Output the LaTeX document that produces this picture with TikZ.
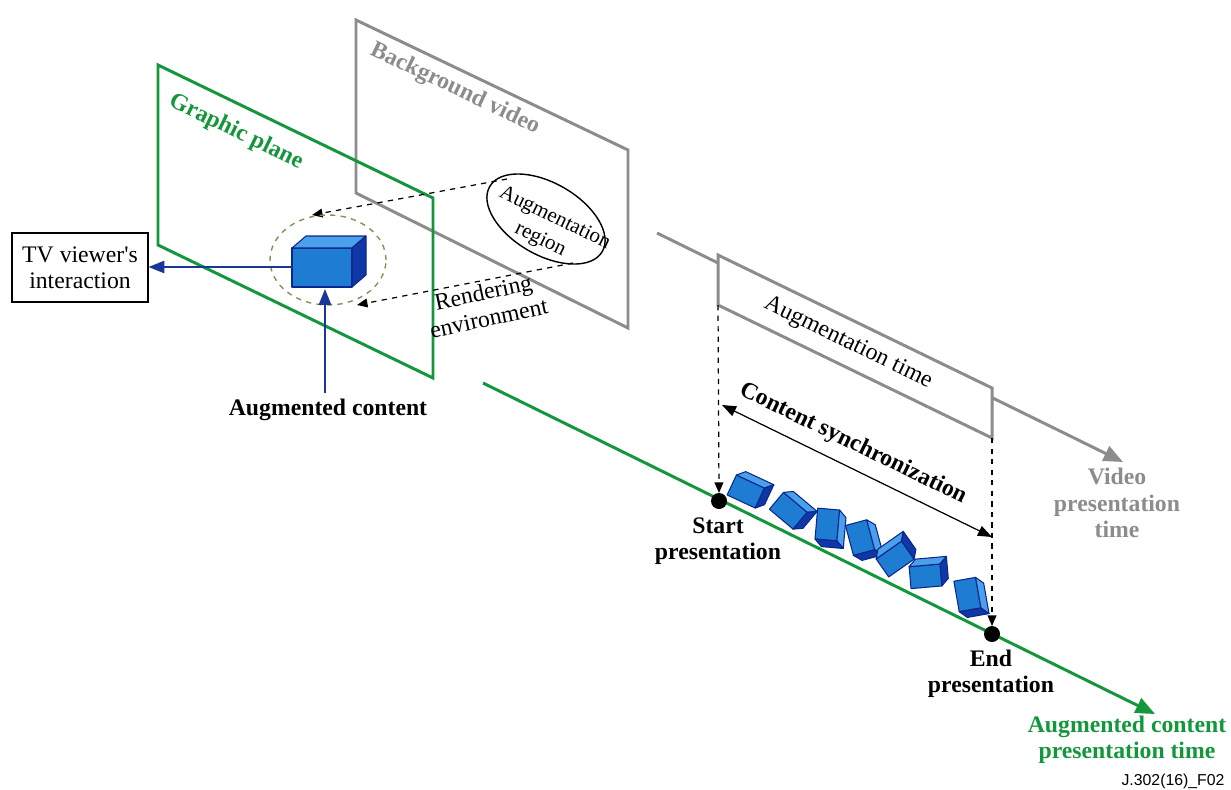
\documentclass[tikz,border=0pt]{standalone}
\usepackage{fontspec}
\setmainfont{Liberation Serif}
\newfontfamily\figsans{Liberation Sans}
\usetikzlibrary{arrows.meta,shapes.geometric}

\definecolor{planegreen}{RGB}{20,150,60}
\definecolor{planegray}{RGB}{140,140,140}
\definecolor{arrowblue}{RGB}{25,55,150}
\definecolor{cubefront}{RGB}{30,125,210}
\definecolor{cubetop}{RGB}{75,160,235}
\definecolor{cubeside}{RGB}{15,55,165}
\definecolor{cubeedge}{RGB}{10,40,140}
\definecolor{dashgreen}{RGB}{125,150,85}

\begin{document}
\begin{tikzpicture}[x=0.02cm,y=0.02cm,
    every node/.style={font=\fontsize{13.5}{15}\selectfont},
    boldlabel/.style={font=\fontsize{13.5}{15}\selectfont\bfseries},
    greenline/.style={draw=planegreen,line width=1.7pt},
    grayline/.style={draw=planegray,line width=1.7pt},
    bigtip/.style={-{Triangle[length=11pt,width=9pt]}},
    dasharrow/.style={dashed,line width=0.7pt,-{Triangle[length=6pt,width=5pt]}},
    bluearrow/.style={draw=arrowblue,line width=0.9pt,-{Triangle[length=9pt,width=7pt]}},
    cubeface/.style={draw=cubeedge,line width=0.6pt,line join=round}]
    \useasboundingbox (0,0) rectangle (1231,-789);

    % planes
    \draw[grayline] (356,-20) -- (628,-150) -- (628,-328) -- (356,-193) -- cycle;
    \node[boldlabel,text=planegray,rotate=-25.5] (bgvideo) at (455,-89) {Background video};

    \draw[greenline] (158,-65) -- (433,-198) -- (433,-378) -- (158,-245) -- cycle;
    \node[boldlabel,text=planegreen,rotate=-25.8] (gplane) at (236,-132) {Graphic plane};

    % augmentation region
    \draw[line width=0.8pt,rotate around={-30:(546,-219)}] (546,-219) ellipse (65 and 36);
    \node[align=center,rotate=-26,font=\fontsize{12}{14.5}\selectfont] (augreg) at (549,-230) {Augmentation\\region\hspace*{4pt}};
    \coordinate (regtop) at (507,-179);
    \coordinate (regbot) at (573,-263);
    \coordinate (ringtop) at (312,-215);
    \coordinate (ringbot) at (357,-305);
    \draw[dasharrow] (regtop) -- (ringtop);
    \draw[dasharrow] (regbot) -- (ringbot);
    \node[align=center,rotate=12] (render) at (486,-305) {Rendering\\environment};

    % rendered content
    \draw[dashgreen,dashed,line width=0.8pt] (328,-260) ellipse (58 and 45);
    \draw[cubeface,fill=cubefront] (292,-248) rectangle (352,-287);
    \draw[cubeface,fill=cubetop] (292,-248) -- (306,-236) -- (366,-236) -- (352,-248) -- cycle;
    \draw[cubeface,fill=cubeside] (352,-248) -- (366,-236) -- (366,-275) -- (352,-287) -- cycle;
    \coordinate (cubeleft) at (292,-267);
    \coordinate (cubebot) at (325,-289);

    \node[draw,line width=0.6pt,align=center,minimum width=2.72cm,minimum height=1.38cm,inner sep=0pt] (tv) at (80,-267.5) {TV viewer\textquotesingle s\\interaction};
    \draw[bluearrow] (cubeleft) -- (tv.east |- cubeleft);

    \node[boldlabel] (augc) at (328,-410) {Augmented content};
    \draw[bluearrow] (augc.north -| cubebot) -- (cubebot);

    % video time line
    \coordinate (vstart) at (657,-233);
    \coordinate (vend) at (1123,-462);
    \draw[grayline,bigtip,color=planegray] (vstart) -- (vend);
    \draw[grayline,fill=white] (718,-255) -- (992,-388) -- (992,-438) -- (718,-305) -- cycle;
    \node[rotate=-25.9] (augtime) at (848,-343) {Augmentation time};
    \node[boldlabel,text=planegray,align=center] (vtime) at (1117,-503) {Video\\presentation\\time};

    % content time line
    \coordinate (cstart) at (483,-383);
    \coordinate (cend) at (1155,-714);
    \draw[greenline,bigtip,color=planegreen] (cstart) -- (cend);
    \fill (719,-501) circle (8) coordinate (sdot);
    \fill (992,-634) circle (8) coordinate (edot);
    \coordinate (boxl) at (718,-305);
    \coordinate (boxr) at (992,-438);
    \draw[dasharrow] (boxl) -- (719,-493);
    \draw[dasharrow] (boxr) -- (992,-626);

    \coordinate (syncl) at (722,-405);
    \coordinate (syncr) at (992,-537);
    \draw[line width=0.7pt,{Triangle[length=8pt,width=6pt]}-{Triangle[length=8pt,width=6pt]}] (syncl) -- (syncr);
    \node[boldlabel,rotate=-26] (sync) at (853,-444) {Content synchronization};

    % tumbling cubes
    \foreach \cx/\cy/\ca in {749/493/-25,791/513/-40,827/528/-95,861/541/-75,898/557/35,929/576/5,968/598/-80}{
        \begin{scope}[shift={(\cx,-\cy)},rotate=\ca]
            \draw[cubeface,fill=cubefront] (-19,-11) rectangle (12,11);
            \draw[cubeface,fill=cubetop] (-19,11) -- (-12,18) -- (19,18) -- (12,11) -- cycle;
            \draw[cubeface,fill=cubeside] (12,-11) -- (19,-4) -- (19,18) -- (12,11) -- cycle;
        \end{scope}
    }

    \node[boldlabel,align=center] (startp) at (718,-541) {Start\\presentation};
    \node[boldlabel,align=center] (endp) at (991,-674) {End\\presentation};
    \node[boldlabel,text=planegreen,align=center] (ctime) at (1127,-740) {Augmented content\\presentation time};
    \node[font=\figsans\fontsize{9}{10}\selectfont] (figno) at (1173,-781) {J.302(16)\_F02};
\end{tikzpicture}
\end{document}
